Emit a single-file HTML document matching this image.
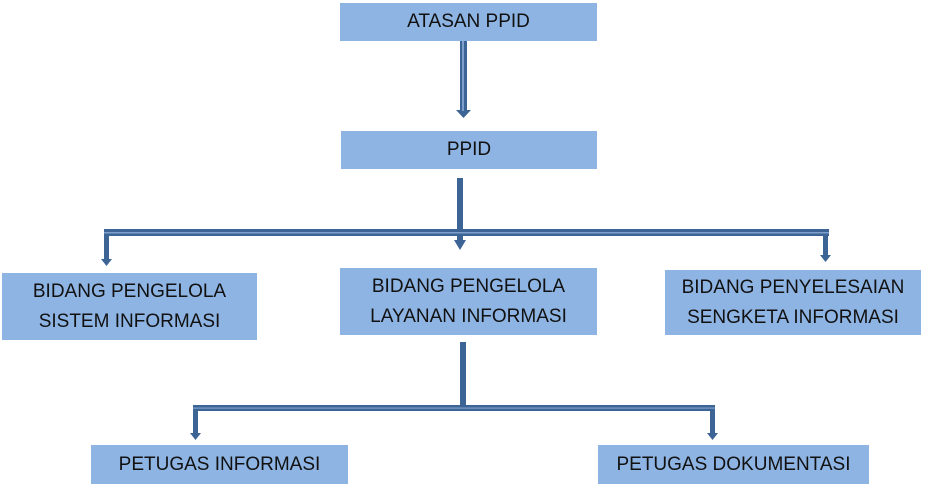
<!DOCTYPE html>
<html><head><style>
body{margin:0;width:928px;height:492px;background:#fff;position:relative;overflow:hidden;font-family:"Liberation Sans",Arial,sans-serif}
.b{position:absolute;background:#8EB4E3;color:#111;display:flex;align-items:center;justify-content:center;text-align:center;font-size:19px;line-height:30px}
svg{position:absolute;left:0;top:0}
</style></head><body>
<svg width="928" height="492">
<g fill="#3C6494">
<rect x="460" y="41" width="7" height="71"/><polygon points="456,110 471,110 463.5,118"/>
<rect x="457" y="178" width="6" height="64"/><polygon points="454,240 466,240 460,250"/>
<rect x="104" y="229" width="725" height="7"/>
<rect x="104" y="229" width="5" height="33"/><polygon points="101,259 112,259 106.5,266"/>
<rect x="823" y="229" width="5" height="28"/><polygon points="820,255 831,255 825.5,262"/>
<rect x="460" y="342" width="6" height="66"/>
<rect x="193" y="405" width="522" height="6"/>
<rect x="193" y="405" width="5" height="30"/><polygon points="190,433 201,433 195.5,440"/>
<rect x="710" y="405" width="5" height="30"/><polygon points="707,433 718,433 712.5,440"/>
</g>
<g fill="#7DA0CC">
<rect x="462" y="41" width="2" height="70"/>
<rect x="104" y="232" width="725" height="1.5"/>
<rect x="193" y="407.5" width="522" height="1.2"/>
</g>
</svg>
<div class="b" style="left:340px;top:3px;width:257px;height:38px">ATASAN PPID</div>
<div class="b" style="left:341px;top:131px;width:256px;height:38px">PPID</div>
<div class="b" style="left:2px;top:273px;width:255px;height:67px">BIDANG PENGELOLA<br>SISTEM INFORMASI</div>
<div class="b" style="left:340px;top:268px;width:257px;height:67px">BIDANG PENGELOLA<br>LAYANAN INFORMASI</div>
<div class="b" style="left:665px;top:270px;width:256px;height:65px">BIDANG PENYELESAIAN<br>SENGKETA INFORMASI</div>
<div class="b" style="left:91px;top:445px;width:257px;height:39px">PETUGAS INFORMASI</div>
<div class="b" style="left:598px;top:445px;width:271px;height:39px">PETUGAS DOKUMENTASI</div>
</body></html>
